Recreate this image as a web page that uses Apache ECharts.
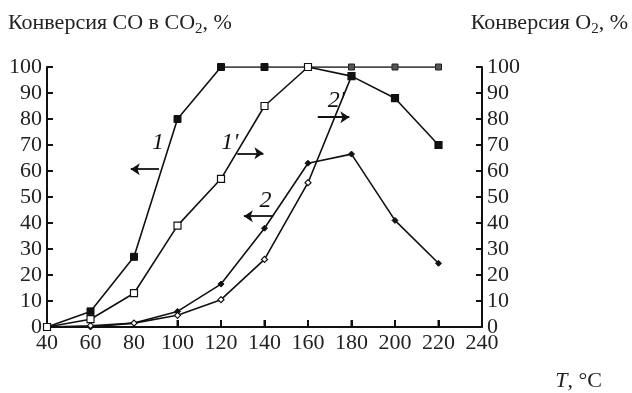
<!DOCTYPE html>
<html><head><meta charset="utf-8">
<script src="https://cdn.jsdelivr.net/npm/echarts@6/dist/echarts.min.js"></script>
<style>html,body{margin:0;padding:0;background:#fff}#c{width:632px;height:393px}</style>
</head><body><div id="c"></div>
<script>
const temps = [40, 60, 80, 100, 120, 140, 160, 180, 200, 220];
const xTicks = [40, 60, 80, 100, 120, 140, 160, 180, 200, 220, 240];
const yTicks = [0, 10, 20, 30, 40, 50, 60, 70, 80, 90, 100];
const s1 = [0, 6, 27, 80, 100, 100, 100, 100, 100, 100];
const s1p = [0, 3, 13, 39, 57, 85, 100, 96.5, 88, 70];
const s2 = [0, 0, 1.5, 6, 16.5, 38, 63, 66.5, 41, 24.5];
const s2p = [0, 0.5, 1.5, 4.5, 10.5, 26, 55.5, 96.5];
const labels = [
  {text: '1', x: 91, y: 71},
  {text: "1'", x: 124, y: 71},
  {text: '2', x: 140.5, y: 48.5},
  {text: "2'", x: 173, y: 87}
];
const arrows = [
  {from: [91.5, 60.7], to: [78.5, 60.7]},
  {from: [127.5, 66.8], to: [139.5, 66.8]},
  {from: [144, 42.6], to: [130.5, 42.6]},
  {from: [164.5, 80.7], to: [179, 80.7]}
];

const FONT = 'Liberation Serif';
const chart = echarts.init(document.getElementById('c'), null, {renderer: 'canvas'});
const pts = (arr) => arr.map((v, i) => [temps[i], v]);
const lineStyle = {color: '#111', width: 1.6};

function axisY(pos) {
  return {
    type: 'value', min: yTicks[0], max: yTicks[yTicks.length - 1], interval: 10, position: pos,
    axisLine: {show: true, lineStyle: {color: '#111', width: 2}},
    axisTick: {show: true, inside: true, length: 6, lineStyle: {color: '#111', width: 2}},
    axisLabel: {color: '#222', fontFamily: FONT, fontSize: 22, margin: 5},
    splitLine: {show: false}
  };
}

const s1Data = pts(s1).map((p, i) => i >= 7 ? {value: p, symbolSize: 6, itemStyle: {color: '#555', borderColor: '#222', borderWidth: 1}} : p);
const s1pData = pts(s1p).map((p, i) => i >= 7 ? {value: p, itemStyle: {color: '#111', borderColor: '#111'}} : p);

chart.setOption({
  animation: false,
  grid: {left: 47, right: 150, top: 67, bottom: 66},
  xAxis: {
    type: 'value', min: xTicks[0], max: xTicks[xTicks.length - 1], interval: 20, position: 'bottom',
    axisLine: {show: true, onZero: false, lineStyle: {color: '#111', width: 2}},
    axisTick: {show: true, inside: true, length: 7, interval: 0, lineStyle: {color: '#111', width: 2}},
    axisLabel: {color: '#222', fontFamily: FONT, fontSize: 22, margin: 5},
    splitLine: {show: false}
  },
  yAxis: [axisY('left'), axisY('right')],
  series: [
    {name: '1', type: 'line', data: s1Data, yAxisIndex: 0, symbol: 'rect', symbolSize: 7,
      lineStyle: lineStyle, itemStyle: {color: '#111', borderColor: '#111'}, z: 3},
    {name: "1'", type: 'line', data: s1pData, yAxisIndex: 1, symbol: 'rect', symbolSize: 7,
      lineStyle: lineStyle, itemStyle: {color: '#fff', borderColor: '#111', borderWidth: 1.2}, z: 4},
    {name: '2', type: 'line', data: pts(s2), yAxisIndex: 0, symbol: 'diamond', symbolSize: 6,
      lineStyle: lineStyle, itemStyle: {color: '#111', borderColor: '#111'}, z: 3},
    {name: "2'", type: 'line', data: pts(s2p), yAxisIndex: 1, symbol: 'diamond', symbolSize: 6,
      lineStyle: lineStyle, itemStyle: {color: '#fff', borderColor: '#111', borderWidth: 1.2}, z: 3,
      markPoint: {
        symbol: 'circle', symbolSize: 0, silent: true,
        label: {show: true, position: 'inside', color: '#111', fontFamily: FONT, fontSize: 24, fontStyle: 'italic',
          formatter: (p) => p.name},
        data: labels.map(l => ({name: l.text, coord: [l.x, l.y]}))
      },
      markLine: {
        silent: true, symbol: ['none', 'arrow'], symbolSize: 9,
        label: {show: false},
        lineStyle: {color: '#111', width: 1.8, type: 'solid'},
        itemStyle: {color: '#111'},
        data: arrows.map(a => [{coord: a.from}, {coord: a.to}])
      }
    },
    {name: 'xticks', type: 'custom', xAxisIndex: 0, yAxisIndex: 0, silent: true, z: 2, clip: false,
      data: xTicks.slice(1, -1).map(t => [t, 0]),
      renderItem: (params, api) => {
        const p = api.coord([api.value(0), api.value(1)]);
        return {type: 'line', shape: {x1: p[0], y1: p[1], x2: p[0], y2: p[1] - 7},
          style: {stroke: '#111', lineWidth: 2}};
      }
    }
  ],
  graphic: [
    {type: 'text', left: 8, top: 12, style: {
      text: '{t|Конверсия CO в CO}{s|2}{t|, %}',
      rich: {t: {fontFamily: FONT, fontSize: 22, fill: '#222'},
             s: {fontFamily: FONT, fontSize: 15, fill: '#222', padding: [12, 0, 0, 0]}}}},
    {type: 'text', right: 4, top: 12, style: {
      text: '{t|Конверсия O}{s|2}{t|, %}',
      rich: {t: {fontFamily: FONT, fontSize: 22, fill: '#222'},
             s: {fontFamily: FONT, fontSize: 15, fill: '#222', padding: [12, 0, 0, 0]}}}},
    {type: 'text', right: 30, top: 370, style: {
      text: '{i|T}{t|, °C}',
      rich: {i: {fontFamily: FONT, fontSize: 22, fontStyle: 'italic', fill: '#222'},
             t: {fontFamily: FONT, fontSize: 22, fill: '#222'}}}}
  ]
});
</script></body></html>
